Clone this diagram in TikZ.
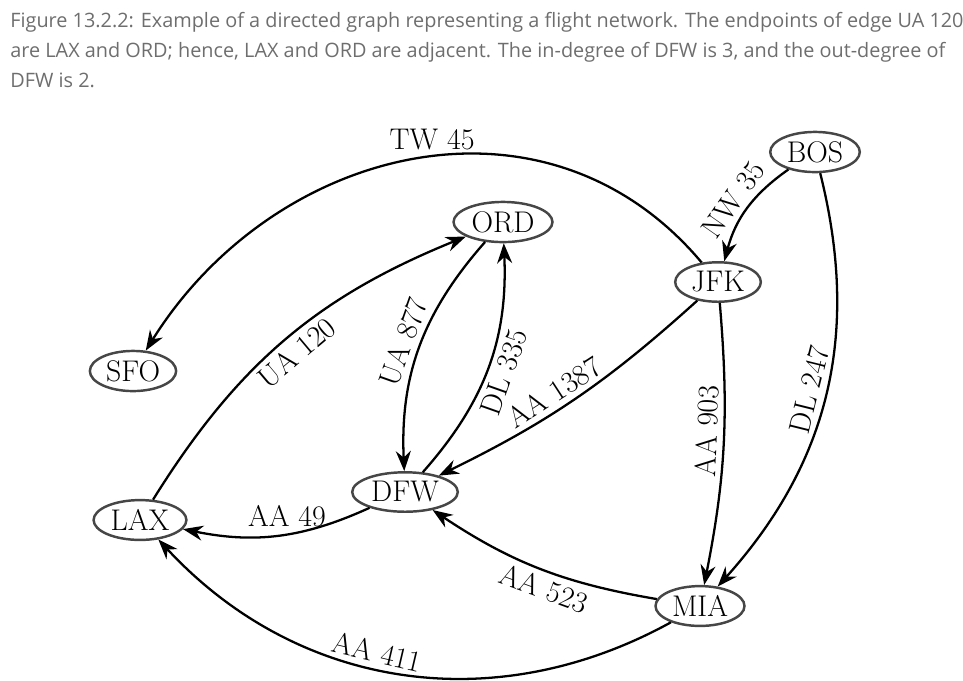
\documentclass[tikz,border=0pt]{standalone}
\usepackage{fontspec}
\newfontfamily\capfont{Open Sans}
\usetikzlibrary{arrows.meta,shapes.geometric}
\definecolor{capgray}{RGB}{110,110,110}
\definecolor{nodegray}{RGB}{70,70,70}
\begin{document}
\begin{tikzpicture}[
		x=0.2mm, y=-0.2mm,
		every node/.style={font=\fontsize{17}{19}\selectfont},
		city/.style={ellipse, draw=nodegray, line width=1.4pt, inner sep=2pt, minimum height=7mm},
		flight/.style={-{Stealth[length=4mm,width=3mm]}, line width=1.3pt},
		lbl/.style={sloped, inner sep=3pt}
	]
	\useasboundingbox (0,0) rectangle (963,680);

	% Caption
	\node[anchor=north west, align=left, text=capgray, inner sep=0pt,
		font=\capfont\fontsize{11.3}{17}\selectfont] (cap) at (10,12)
		{Figure 13.2.2: Example of a directed graph representing a flight network. The endpoints of edge UA 120\\
		are LAX and ORD; hence, LAX and ORD are adjacent. The in-degree of DFW is 3, and the out-degree of\\
		DFW is 2.};

	% Nodes
	\node[city] (BOS) at (815,152) {BOS};
	\node[city] (ORD) at (503,222) {ORD};
	\node[city] (JFK) at (718,282) {JFK};
	\node[city] (SFO) at (133,371) {SFO};
	\node[city] (LAX) at (140,520) {LAX};
	\node[city] (DFW) at (405,492) {DFW};
	\node[city] (MIA) at (700,606) {MIA};

	% Edges
	\draw[flight] (JFK) to[out=130, in=58, looseness=1.1] node[pos=0.47, above] {TW 45} (SFO);
	\draw[flight] (BOS) to[bend right=20] node[lbl, above] {NW 35} (JFK);
	\draw[flight] (BOS) to[bend left=28] node[lbl, above] {DL 247} (MIA);
	\draw[flight] (LAX) to[bend left=18] node[lbl, below] {UA 120} (ORD);
	\draw[flight] (ORD) to[bend right=22] node[lbl, above] {UA 877} (DFW);
	\draw[flight] (DFW) to[bend right=22] node[lbl, below] {DL 335} (ORD);
	\draw[flight] (JFK) to[bend left=8] node[lbl, above, pos=0.55] {AA 1387} (DFW);
	\draw[flight] (DFW) to[bend left=18] node[above, pos=0.45] {AA 49} (LAX);
	\draw[flight] (JFK) to[bend left=8] node[lbl, above, pos=0.45] {AA 903} (MIA);
	\draw[flight] (MIA) to[bend left=12] node[lbl, below, pos=0.45] {AA 523} (DFW);
	\draw[flight] (MIA) to[bend left=38] node[lbl, above, pos=0.55] {AA 411} (LAX);
\end{tikzpicture}
\end{document}
